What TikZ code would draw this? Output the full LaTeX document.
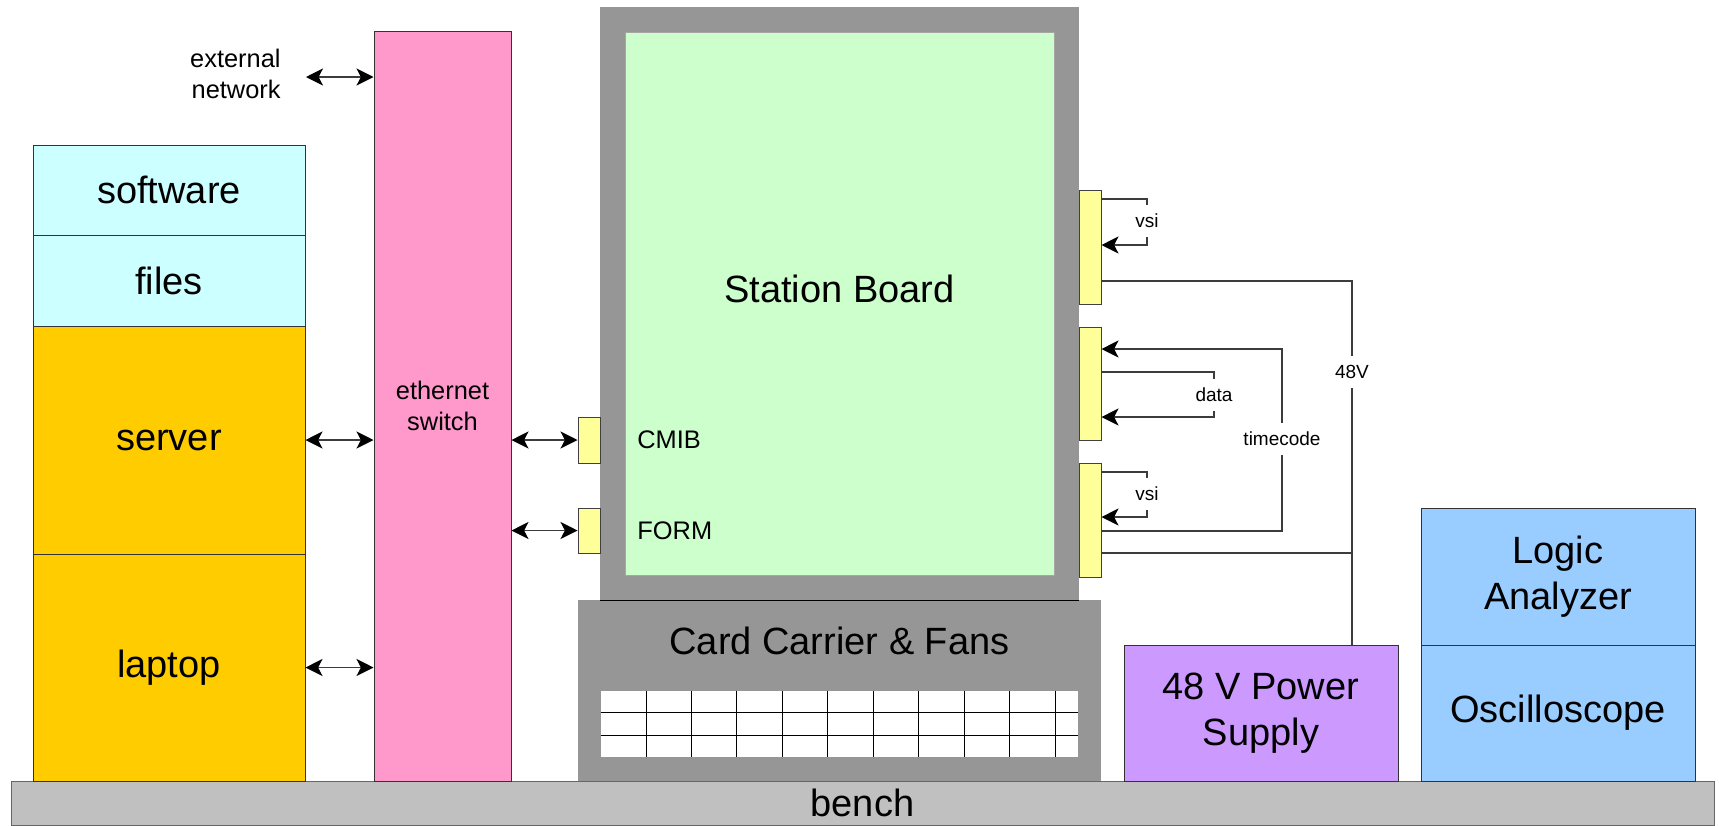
\documentclass[tikz,border=0pt]{standalone}
\usepackage{fontspec}
\setmainfont{Liberation Sans}
\usepackage{tikz}
\usetikzlibrary{arrows.meta,calc}
\definecolor{bnsoft}{HTML}{CCFFFF}
\definecolor{bnhost}{HTML}{FFCC00}
\definecolor{bnswitch}{HTML}{FF99CC}
\definecolor{bnboard}{HTML}{CCFFCC}
\definecolor{bnframe}{HTML}{969696}
\definecolor{bnbench}{HTML}{C0C0C0}
\definecolor{bnport}{HTML}{FFFF99}
\definecolor{bnpower}{HTML}{CC99FF}
\definecolor{bninst}{HTML}{99CCFF}
\definecolor{bnwire}{HTML}{3C3C3C}

\begin{document}
\begin{tikzpicture}[x=0.5pt, y=-0.5pt,
  bigtext/.style={font=\fontsize{19}{23}\selectfont, align=center},
  midtext/.style={font=\fontsize{12.7}{15.5}\selectfont, align=center},
  block/.style={rectangle, draw=black!80, line width=0.5pt, bigtext},
  plate/.style={rectangle, inner sep=0pt, fill=bnframe},
  port/.style={rectangle, draw=black!75, line width=0.5pt, fill=bnport, inner sep=0pt, minimum width=11pt},
  tag/.style={fill=white, inner xsep=1.5pt, inner ysep=0pt, minimum height=16pt, font=\fontsize{9.5}{11}\selectfont},
  wire/.style={draw=bnwire, line width=0.6pt},
  arr/.style={wire, -{Stealth[length=8.5pt,width=8.5pt,inset=2.2pt,black]}},
  biarr/.style={wire, {Stealth[length=8.5pt,width=8.5pt,inset=2.2pt,black]}-{Stealth[length=8.5pt,width=8.5pt,inset=2.2pt,black]}}
]
  \useasboundingbox (0,0) rectangle (1719,825);

  \node[block, draw=black!60, fill=bnbench, minimum width=851.5pt, minimum height=22pt] (bench) at (862.5,803) {bench};

  \node[block, fill=bnsoft, minimum width=136pt, minimum height=45pt] (software) at (169,190) {software};
  \node[block, fill=bnsoft, minimum width=136pt, minimum height=45.5pt] (files) at (169,280.5) {files};
  \node[block, fill=bnhost, minimum width=136pt, minimum height=114pt] (server) at (169,440) {server};
  \node[block, fill=bnhost, minimum width=136pt, minimum height=113.5pt] (laptop) at (169,667.5) {laptop};

  \node[block, midtext, fill=bnswitch, minimum width=68.5pt, minimum height=375pt] (switch) at (442.5,406) {ethernet\\switch};
  \node[midtext, align=right, anchor=east, inner sep=0pt] (extnet) at (281,74) {external\\network};
  \coordinate (extport) at (306,77);

  \node[plate, minimum width=239.5pt, minimum height=296.5pt] (frame) at (839.5,303.5) {};
  \node[rectangle, inner sep=0pt, fill=bnboard, draw=black!35, line width=0.5pt,
        minimum width=214.5pt, minimum height=271.5pt] (board) at (839.5,303.5) {};
  \node[bigtext] (boardname) at (839.5,289) {Station Board};
  \node[plate, minimum width=261.5pt, minimum height=90.5pt] (carrier) at (839.5,690.5) {};
  \draw[line width=0.8pt] (frame.south west) -- (frame.south east);
  \node[bigtext] (carriername) at (839.5,641) {Card Carrier \& Fans};
  \node[rectangle, inner sep=0pt, fill=white, minimum width=238.5pt, minimum height=33pt] (fans) at (839.5,724) {};
  \foreach \r in {1,2}
    \draw[line width=0.5pt] ($(fans.north west)!\r/3!(fans.south west)$) -- ($(fans.north east)!\r/3!(fans.south east)$);
  \foreach \c in {1,...,10}
    \draw[line width=0.5pt] ($(fans.north west)+(\c*45.45,0)$) -- ($(fans.south west)+(\c*45.45,0)$);

  \node[port, minimum height=23pt] (cmib) at (589,440) {};
  \node[port, minimum height=22.5pt] (form) at (589,530.5) {};
  \node[midtext, anchor=west, inner sep=0pt] (cmibname) at (637,440) {CMIB};
  \node[midtext, anchor=west, inner sep=0pt] (formname) at (637,531) {FORM};

  \node[port, minimum height=57pt] (conA) at (1090,247) {};
  \node[port, minimum height=56.5pt] (conB) at (1090,383.5) {};
  \node[port, minimum height=57pt] (conC) at (1090,520) {};

  \node[block, fill=bnpower, minimum width=137pt, minimum height=68pt] (psu) at (1261,713) {48 V Power\\Supply};
  \node[block, fill=bninst, minimum width=137pt, minimum height=68.5pt] (logic) at (1558,576.5) {Logic\\Analyzer};
  \node[block, fill=bninst, minimum width=137pt, minimum height=68pt] (scope) at (1558,713) {Oscilloscope};

  \node[tag] (vsiA) at (1147,221) {vsi};
  \node[tag] (data) at (1214,395) {data};
  \node[tag] (timecode) at (1282,439) {timecode};
  \node[tag] (vsiC) at (1147,494) {vsi};
  \node[tag] (v48) at (1352,372) {48V};

  \draw[biarr] (extport) -- (extport -| switch.west);
  \draw[biarr] (server.east) -- (server.east -| switch.west);
  \draw[biarr] (laptop.east) -- (laptop.east -| switch.west);
  \draw[biarr] (switch.east |- cmib) -- (cmib.west);
  \draw[biarr] (switch.east |- form) -- (form.west);

  \draw[wire] (conA.east |- 0,199) -| (vsiA.north);
  \draw[arr] (vsiA.south) |- (conA.east |- 0,245);
  \draw[wire] (conB.east |- 0,372) -| (data.north);
  \draw[arr] (data.south) |- (conB.east |- 0,417);
  \draw[wire] (conC.east |- 0,531) -| (timecode.south);
  \draw[arr] (timecode.north) |- (conB.east |- 0,349);
  \draw[wire] (conC.east |- 0,472) -| (vsiC.north);
  \draw[arr] (vsiC.south) |- (conC.east |- 0,517);
  \draw[wire] (conA.east |- 0,281) -| (v48.north);
  \draw[wire] (v48.south) -- (v48.south |- psu.north);
  \draw[wire] (conC.east |- 0,553) -- (v48.south |- 0,553);
\end{tikzpicture}
\end{document}
